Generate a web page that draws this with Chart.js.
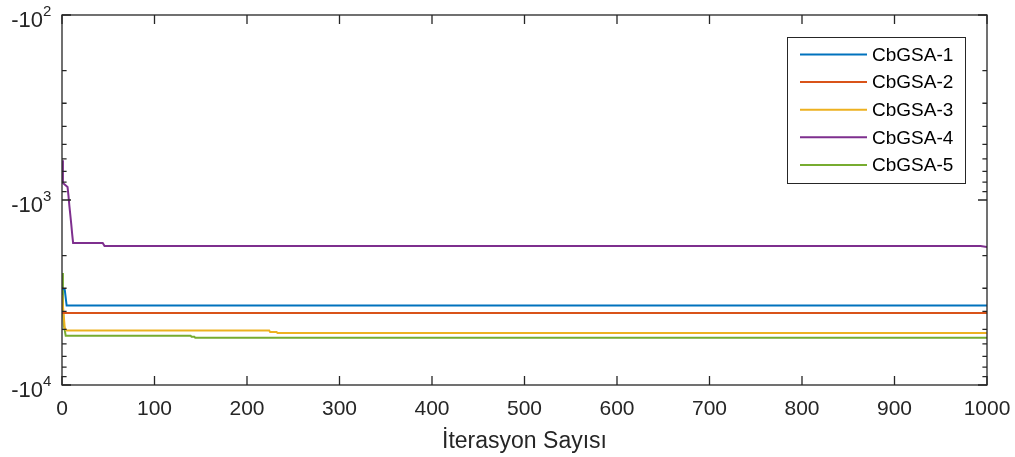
<!DOCTYPE html>
<html>
<head>
<meta charset="utf-8">
<script src="https://cdn.jsdelivr.net/npm/chart.js@4.4.1/dist/chart.umd.min.js"></script>
<style>
  html, body { margin: 0; padding: 0; background: #fff; }
  #wrap { width: 1015px; height: 457px; }
</style>
</head>
<body>
<div id="wrap"><canvas id="convergenceChart"></canvas></div>
<script>
const seriesNames = ["CbGSA-1", "CbGSA-2", "CbGSA-3", "CbGSA-4", "CbGSA-5"];
const seriesColors = ["#0072bd", "#d95319", "#edb120", "#7e2f8e", "#77ac30"];

// best fitness vs iteration, only the iterations where the curve changes
const iter1 = [0, 3, 5, 1000];
const fit1 = [-2990, -3060, -3720, -3720];
const iter2 = [0, 1000];
const fit2 = [-4080, -4080];
const iter3 = [0, 3, 5, 224, 225, 232, 233, 1000];
const fit3 = [-3260, -4920, -5075, -5075, -5170, -5170, -5240, -5240];
const iter4 = [0, 1, 6, 7, 8, 9, 10, 11, 12, 44, 46, 993, 1000];
const fit4 = [-610, -810, -850, -950, -1080, -1205, -1350, -1530, -1706, -1706, -1774, -1774, -1795];
const iter5 = [0, 1, 2, 4, 139, 140, 143, 144, 1000];
const fit5 = [-2480, -3900, -4750, -5410, -5410, -5480, -5480, -5550, -5550];

const xTicks = [0, 100, 200, 300, 400, 500, 600, 700, 800, 900, 1000];
const yDecades = [2, 3, 4];
const xTitle = "İterasyon Sayısı";

const axisColor = "#262626";
const fontFamily = "'Liberation Sans', Arial, Helvetica, sans-serif";
Chart.defaults.font.family = fontFamily;

function toPoints(iters, values) {
  // log axis is reversed, so plot the magnitude of the negative fitness
  return iters.map((it, i) => ({ x: it, y: Math.abs(values[i]) }));
}

const allIters = [iter1, iter2, iter3, iter4, iter5];
const allFits = [fit1, fit2, fit3, fit4, fit5];

const datasets = seriesNames.map((name, i) => ({
  label: name,
  data: toPoints(allIters[i], allFits[i]),
  borderColor: seriesColors[i],
  backgroundColor: seriesColors[i],
  borderWidth: 2,
  pointRadius: 0,
  tension: 0,
  fill: false,
}));

const axesBoxPlugin = {
  id: "axesBox",
  afterDatasetsDraw(chart) {
    const { ctx, chartArea, scales } = chart;
    const { left, right, top, bottom } = chartArea;
    const majorLen = 9;
    const minorLen = 4.6;
    ctx.save();
    ctx.strokeStyle = axisColor;
    ctx.lineWidth = 1.3;
    ctx.beginPath();
    xTicks.forEach((v) => {
      const px = scales.x.getPixelForValue(v);
      ctx.moveTo(px, bottom);
      ctx.lineTo(px, bottom - majorLen);
      ctx.moveTo(px, top);
      ctx.lineTo(px, top + majorLen);
    });
    yDecades.forEach((e, idx) => {
      const py = scales.y.getPixelForValue(10 ** e);
      ctx.moveTo(left, py);
      ctx.lineTo(left + majorLen, py);
      ctx.moveTo(right, py);
      ctx.lineTo(right - majorLen, py);
      if (idx === yDecades.length - 1) return;
      for (let k = 2; k <= 9; k += 1) {
        const pm = scales.y.getPixelForValue(k * 10 ** e);
        ctx.moveTo(left, pm);
        ctx.lineTo(left + minorLen, pm);
        ctx.moveTo(right, pm);
        ctx.lineTo(right - minorLen, pm);
      }
    });
    ctx.stroke();
    ctx.strokeRect(left, top, right - left, bottom - top);

    // y tick labels as -10^n
    ctx.fillStyle = axisColor;
    yDecades.forEach((e) => {
      const py = scales.y.getPixelForValue(10 ** e);
      ctx.textAlign = "right";
      ctx.textBaseline = "alphabetic";
      ctx.font = `22px ${fontFamily}`;
      ctx.fillText("-10", left - 19, py + 12);
      ctx.textAlign = "left";
      ctx.font = `15px ${fontFamily}`;
      ctx.fillText(String(e), left - 19, py + 1);
    });
    ctx.restore();
  },
};

const boxLegendPlugin = {
  id: "boxLegend",
  afterDraw(chart) {
    const { ctx, chartArea } = chart;
    const boxRight = chartArea.right - 22;
    const boxLeft = boxRight - 178;
    const boxTop = chartArea.top + 22;
    const rowGap = 27.6;
    const boxHeight = 146;
    ctx.save();
    ctx.fillStyle = "#fff";
    ctx.fillRect(boxLeft, boxTop, boxRight - boxLeft, boxHeight);
    ctx.strokeStyle = axisColor;
    ctx.lineWidth = 1;
    ctx.strokeRect(boxLeft + 0.5, boxTop + 0.5, boxRight - boxLeft, boxHeight);
    ctx.font = `19px ${fontFamily}`;
    ctx.textAlign = "left";
    ctx.textBaseline = "middle";
    chart.data.datasets.forEach((ds, i) => {
      const ry = boxTop + 17.5 + i * rowGap;
      ctx.strokeStyle = ds.borderColor;
      ctx.lineWidth = 2;
      ctx.beginPath();
      ctx.moveTo(boxLeft + 13, ry);
      ctx.lineTo(boxLeft + 80, ry);
      ctx.stroke();
      ctx.fillStyle = "#000";
      ctx.fillText(ds.label, boxLeft + 85, ry + 1);
    });
    ctx.restore();
  },
};

new Chart(document.getElementById("convergenceChart"), {
  type: "line",
  data: { datasets },
  options: {
    responsive: true,
    maintainAspectRatio: false,
    animation: false,
    layout: { padding: { top: 15, right: 28, left: 0, bottom: 0 } },
    plugins: {
      legend: { display: false },
      tooltip: { enabled: false },
    },
    scales: {
      x: {
        type: "linear",
        min: 0,
        max: 1000,
        grid: { display: false, drawTicks: false },
        border: { display: false },
        ticks: {
          stepSize: 100,
          autoSkip: false,
          maxRotation: 0,
          padding: 12,
          color: axisColor,
          font: { size: 21 },
          callback: (value) => (xTicks.includes(value) ? String(value) : ""),
        },
        title: {
          display: true,
          text: xTitle,
          color: axisColor,
          font: { size: 23 },
          padding: { top: 0, bottom: 2 },
        },
        afterFit: (scale) => {
          scale.height = 72;
          scale.paddingLeft = 0;
          scale.paddingRight = 0;
        },
      },
      y: {
        type: "logarithmic",
        reverse: true,
        min: 10 ** yDecades[0],
        max: 10 ** yDecades[yDecades.length - 1],
        grid: { display: false, drawTicks: false },
        border: { display: false },
        ticks: { display: false },
        afterFit: (scale) => {
          scale.width = 62;
          scale.paddingTop = 0;
          scale.paddingBottom = 0;
        },
      },
    },
  },
  plugins: [axesBoxPlugin, boxLegendPlugin],
});
</script>
</body>
</html>
